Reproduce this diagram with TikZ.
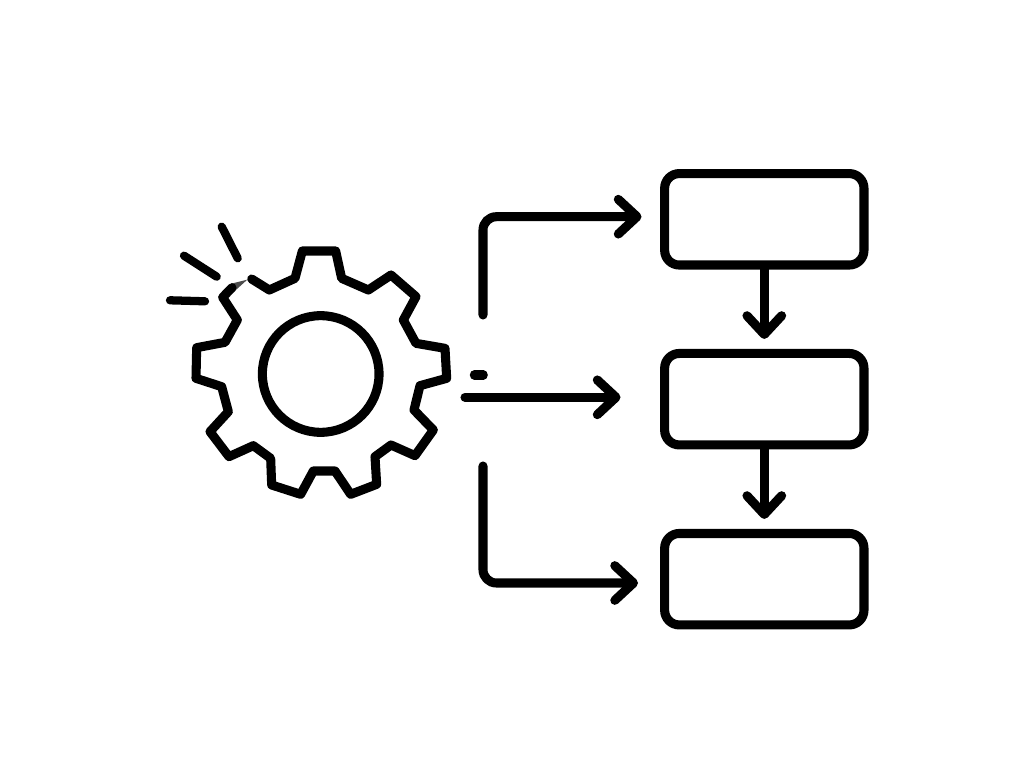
\documentclass[tikz,border=0pt]{standalone}
\usetikzlibrary{arrows.meta}
\tikzset{
  ink/.style={draw=black,line width=6.8pt,line cap=round,line join=round},
  boxnode/.style={ink,fill=none,rectangle,rounded corners=11pt,minimum width=149.5pt,minimum height=68.6pt,inner sep=0pt},
  hubnode/.style={ink,circle,minimum size=87.5pt,inner sep=0pt},
  arrowline/.style={ink,-{Straight Barb[length=14pt,width=26pt,line cap=round,round]}},
  flowline/.style={arrowline,shorten >=7.5pt},
  sparkline/.style={draw=black,line width=6.2pt,line cap=round},
  seamfill/.style={fill=black!70,draw=none}
}
\begin{document}
\begin{tikzpicture}[x=0.75pt,y=-0.75pt]
\useasboundingbox[fill=white] (0,0) rectangle (1024,773);
% boxes
\node[boxnode] (b1) at (764.3,219.3) {};
\node[boxnode] (b2) at (764.3,399.2) {};
\node[boxnode] (b3) at (764.3,579.2) {};
\draw[flowline] (b1.south) -- (b2.north);
\draw[flowline] (b2.south) -- (b3.north);
% gear
\node[hubnode] (hub) at (320.7,374) {};
\begin{scope}[shift={(160,215)},x=0.25pt,y=-0.25pt]
\fill[seamfill] (214,206) -- (262,194) -- (222,230) -- cycle;
\draw[ink] (216,218) -- (188,247) -- (232,315) -- (195,382) -- (110,398) -- (108,490)
  -- (185,515) -- (205,590) -- (150,650) -- (207,725) -- (280,692) -- (332,730) -- (335,810)
  -- (422,838) -- (460,768) -- (525,768) -- (572,838) -- (650,808) -- (645,725) -- (693,690)
  -- (765,722) -- (820,645) -- (762,585) -- (780,512) -- (860,490) -- (855,400) -- (768,385)
  -- (730,315) -- (768,245) -- (693,180) -- (625,225) -- (545,190) -- (527,108) -- (427,108)
  -- (405,190) -- (328,225) -- (275,192);
\end{scope}
% sparks
\coordinate (s1a) at (170,300.3); \coordinate (s1b) at (205,301.3);
\coordinate (s2a) at (184,255.7); \coordinate (s2b) at (216.7,276.7);
\coordinate (s3a) at (221.7,226.7); \coordinate (s3b) at (237.7,258.3);
\draw[sparkline] (s1a) -- (s1b);
\draw[sparkline] (s2a) -- (s2b);
\draw[sparkline] (s3a) -- (s3b);
% arrows
\coordinate (a1s) at (483,315); \coordinate (a1c) at (483,216.7); \coordinate (a1e) at (641.5,216.7);
\coordinate (a2s) at (465,397.3); \coordinate (a2e) at (620.5,397.3);
\coordinate (a3s) at (483,466); \coordinate (a3c) at (483,583); \coordinate (a3e) at (638,583);
\coordinate (d1) at (474.3,375); \coordinate (d2) at (483.3,375);
\draw[arrowline,rounded corners=10pt] (a1s) -- (a1c) -- (a1e);
\draw[arrowline] (a2s) -- (a2e);
\draw[arrowline,rounded corners=10pt] (a3s) -- (a3c) -- (a3e);
\draw[ink] (d1) -- (d2);
\end{tikzpicture}
\end{document}
